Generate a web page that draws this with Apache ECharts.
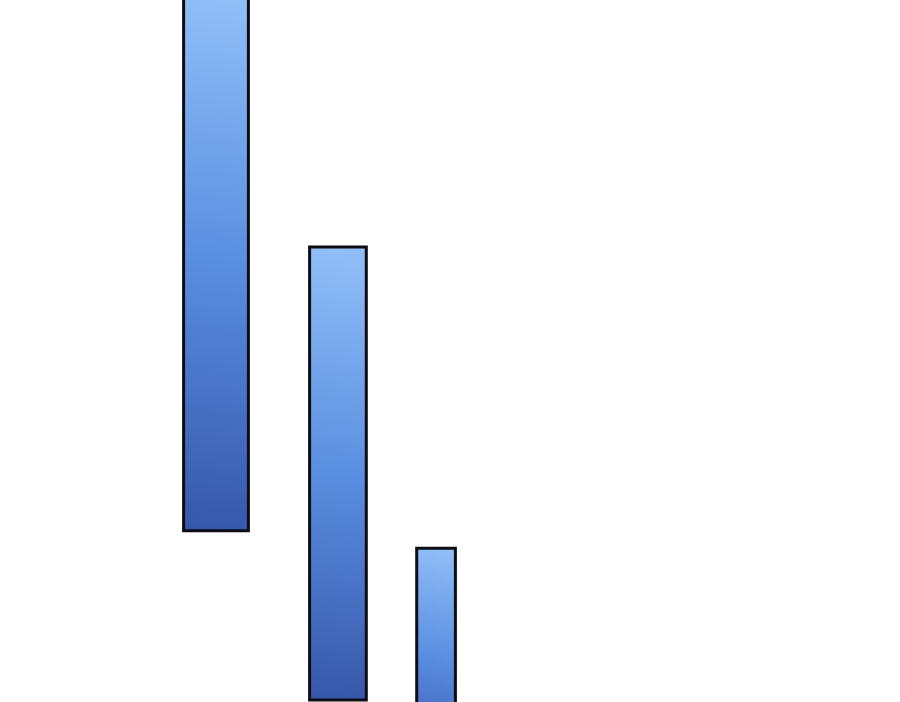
<!DOCTYPE html>
<html>
<head>
<meta charset="utf-8">
<script src="https://cdn.jsdelivr.net/npm/echarts@6/dist/echarts.min.js"></script>
<style>
  html, body { margin: 0; padding: 0; background: #fff; }
  #chart { width: 900px; height: 702px; }
</style>
</head>
<body>
<div id="chart"></div>
<script>
// bar extents (axis units, x 0-100, y 0-100)
var barLeft = [20.4, 34.4, 46.3];
var barRight = [27.6, 40.7, 50.6];
var barLow = [24.4, 0.3, -9];
var barHigh = [101, 64.8, 21.9];

var rows = barLeft.map(function (l, i) {
  return [l, barRight[i], barLow[i], barHigh[i]];
});

var chart = echarts.init(document.getElementById('chart'));

function renderBar(params, api) {
  var p1 = api.coord([api.value(0), api.value(3)]);
  var p2 = api.coord([api.value(1), api.value(2)]);
  return {
    type: 'rect',
    shape: { x: p1[0], y: p1[1], width: p2[0] - p1[0], height: p2[1] - p1[1] },
    style: {
      fill: new echarts.graphic.LinearGradient(1, 0, 0, 1, [
        { offset: 0, color: '#92c0f8' },
        { offset: 0.5, color: '#5a8ee0' },
        { offset: 1, color: '#3656aa' }
      ]),
      stroke: '#0d0d14',
      lineWidth: 3
    }
  };
}

var option = {
  animation: false,
  grid: { left: 0, right: 0, top: 0, bottom: 0 },
  xAxis: { type: 'value', min: 0, max: 100, show: false },
  yAxis: { type: 'value', min: 0, max: 100, show: false },
  series: [{
    type: 'custom',
    clip: true,
    renderItem: renderBar,
    encode: { x: [0, 1], y: [2, 3] },
    data: rows
  }]
};
chart.setOption(option);
</script>
</body>
</html>
